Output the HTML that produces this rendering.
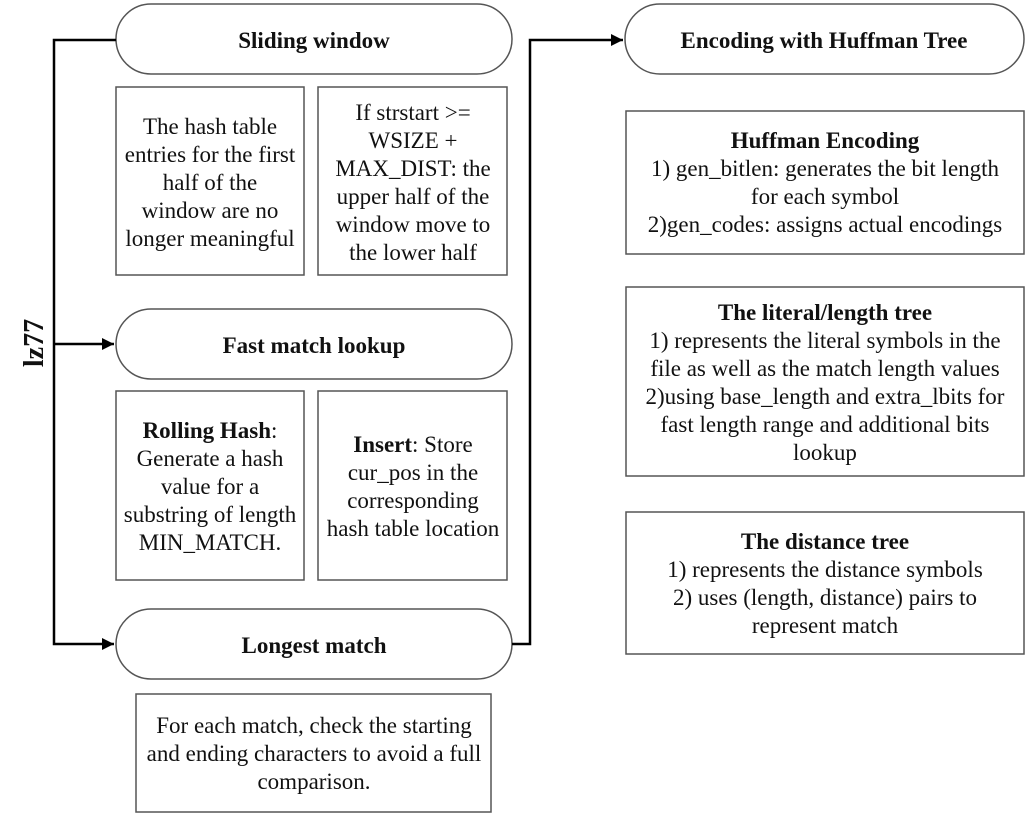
<!DOCTYPE html>
<html><head><meta charset="utf-8"><style>
html,body{margin:0;padding:0;background:#fff;}
svg{display:block;}
text{font-family:"Liberation Serif",serif;font-size:23px;fill:#111;text-anchor:middle;}
.b{font-weight:bold;}
</style></head><body>
<svg width="1031" height="823" viewBox="0 0 1031 823" xmlns="http://www.w3.org/2000/svg">
<defs><marker id="a" markerWidth="14" markerHeight="14" refX="12" refY="6" orient="auto" markerUnits="userSpaceOnUse"><path d="M0,0 L12,6 L0,12 z" fill="#000"/></marker></defs>
<g fill="#fff" stroke="#555" stroke-width="1.5">
<rect x="116" y="4" width="396" height="70" rx="35"/>
<rect x="116" y="87" width="188" height="188"/>
<rect x="318" y="87" width="189" height="188"/>
<rect x="116" y="309" width="396" height="70" rx="35"/>
<rect x="116" y="391" width="188" height="189"/>
<rect x="318" y="391" width="189" height="189"/>
<rect x="116" y="609" width="396" height="70" rx="35"/>
<rect x="136" y="694" width="355" height="118"/>
<rect x="625" y="4" width="399" height="70" rx="35"/>
<rect x="626" y="111" width="398" height="143"/>
<rect x="626" y="287" width="398" height="189"/>
<rect x="626" y="512" width="398" height="142"/>
</g>
<g fill="none" stroke="#000" stroke-width="2.5">
<path d="M116,40 H54 V644 H114" marker-end="url(#a)"/>
<path d="M54,344 H114" marker-end="url(#a)"/>
<path d="M512,644 H530 V40 H623" marker-end="url(#a)"/>
</g>
<text class="b" x="314" y="48">Sliding window</text>
<text class="b" x="314" y="353">Fast match lookup</text>
<text class="b" x="314" y="653">Longest match</text>
<text class="b" x="824" y="48">Encoding with Huffman Tree</text>
<text class="b" transform="translate(43,343) rotate(-90)" style="font-size:28px">lz77</text>
<text x="210" y="134">The hash table</text>
<text x="210" y="162">entries for the first</text>
<text x="210" y="190">half of the</text>
<text x="210" y="218">window are no</text>
<text x="210" y="246">longer meaningful</text>
<text x="413" y="120">If strstart &gt;=</text>
<text x="413" y="148">WSIZE +</text>
<text x="413" y="176">MAX_DIST: the</text>
<text x="413" y="204">upper half of the</text>
<text x="413" y="232">window move to</text>
<text x="413" y="260">the lower half</text>
<text x="210" y="438"><tspan class="b">Rolling Hash</tspan>:</text>
<text x="210" y="466">Generate a hash</text>
<text x="210" y="494">value for a</text>
<text x="210" y="522">substring of length</text>
<text x="210" y="550">MIN_MATCH.</text>
<text x="413" y="452"><tspan class="b">Insert</tspan>: Store</text>
<text x="413" y="480">cur_pos in the</text>
<text x="413" y="508">corresponding</text>
<text x="413" y="536">hash table location</text>
<text x="314" y="733">For each match, check the starting</text>
<text x="314" y="761">and ending characters to avoid a full</text>
<text x="314" y="789">comparison.</text>
<text class="b" x="825" y="148">Huffman Encoding</text>
<text x="825" y="176">1) gen_bitlen: generates the bit length</text>
<text x="825" y="204">for each symbol</text>
<text x="825" y="232">2)gen_codes: assigns actual encodings</text>
<text class="b" x="825" y="320">The literal/length tree</text>
<text x="825" y="348">1) represents the literal symbols in the</text>
<text x="825" y="376">file as well as the match length values</text>
<text x="825" y="404">2)using base_length and extra_lbits for</text>
<text x="825" y="432">fast length range and additional bits</text>
<text x="825" y="460">lookup</text>
<text class="b" x="825" y="549">The distance tree</text>
<text x="825" y="577">1) represents the distance symbols</text>
<text x="825" y="605">2) uses (length, distance) pairs to</text>
<text x="825" y="633">represent match</text>
</svg>
</body></html>
